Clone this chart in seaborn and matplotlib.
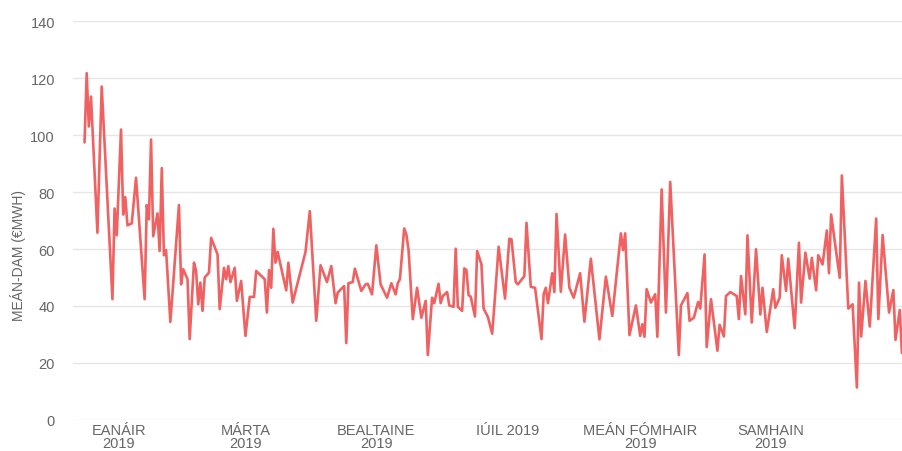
import pandas as pd
import numpy as np
import matplotlib
matplotlib.use("Agg")
import matplotlib.pyplot as plt
import seaborn as sns

# ── DATA (day offsets from 1 Jan 2019) ──
start = pd.Timestamp("2019-01-01")
day_offset = [-16, -15, -14, -13, -10, -8, -3, -2, -1, 1,
              2, 3, 4, 6, 8, 12, 13, 14, 15, 16,
              18, 19, 20, 21, 22, 24, 28, 29, 30, 32,
              33, 35, 36, 37, 38, 39, 40, 42, 43, 46,
              47, 49, 50, 51, 52, 54, 55, 57, 59, 61,
              63, 64, 68, 69, 70, 71, 72, 73, 74, 78,
              79, 81, 87, 89, 92, 94, 97, 99, 101, 102,
              105, 106, 107, 109, 110, 113, 115, 116, 118, 120,
              122, 125, 127, 129, 130, 131, 133, 134, 135, 137,
              139, 141, 143, 144, 146, 147, 149, 150, 151, 153,
              154, 156, 157, 158, 160, 161, 162, 163, 164, 166,
              167, 169, 170, 172, 174, 175, 177, 180, 182, 183,
              185, 186, 189, 190, 192, 194, 197, 198, 199, 200,
              202, 203, 204, 206, 208, 210, 212, 215, 217, 220,
              224, 227, 230, 234, 235, 236, 238, 241, 243, 244,
              245, 246, 248, 250, 251, 253, 255, 257, 261, 262,
              265, 266, 268, 269, 270, 271, 273, 274, 276, 279,
              280, 282, 283, 285, 288, 289, 290, 292, 293, 295,
              297, 299, 300, 302, 305, 306, 308, 309, 311, 312,
              315, 317, 318, 320, 322, 323, 325, 326, 328, 330,
              331, 332, 336, 337, 340, 342, 344, 345, 346, 348,
              350, 353, 354, 356, 359, 361, 362, 364, 365]
price = [97.4, 121.7, 103, 113.5, 65.7, 117, 42.4, 74.2, 64.8, 101.9,
         72.1, 78.2, 68.3, 69, 85, 42.4, 75.4, 70.4, 98.4, 64.5,
         72.5, 59.3, 88.4, 57.8, 59.6, 34.4, 75.4, 47.6, 52.9, 49.4,
         28.4, 55.2, 52.3, 40.6, 48.2, 38.3, 50, 51.7, 63.9, 58.1,
         38.9, 53.4, 49.4, 54, 48.4, 53.4, 41.8, 48.8, 29.5, 43.2,
         43.2, 52.3, 49.4, 37.7, 52.6, 46.4, 67.1, 55.2, 59, 45.5,
         55.2, 41.2, 59, 73.3, 34.8, 54.3, 48.4, 54, 41, 44.7,
         47, 27, 48, 48.4, 53.1, 45.3, 47.6, 47.8, 44.1, 61.3,
         47.6, 42.9, 48, 44.1, 48, 49.4, 67.2, 65.1, 59.9, 35.4,
         46.4, 35.9, 41.8, 22.8, 42.9, 41, 47.8, 41, 43.5, 44.9,
         40.2, 39.7, 60.1, 39.7, 38.3, 53.2, 52.6, 43.8, 43.3, 36.3,
         59.3, 54.6, 39.1, 36.2, 30.3, 40, 60.8, 42.6, 63.6, 63.4,
         48.4, 47.6, 50.5, 69.2, 46.7, 46.4, 28.4, 44.1, 46.4, 41,
         51.5, 44.9, 72.3, 45, 65.1, 46.4, 42.9, 51.5, 34.5, 56.6,
         28.3, 50.3, 36.5, 65.5, 59.6, 65.5, 29.8, 40.2, 29.5, 33.6,
         29.2, 45.9, 41.2, 44.1, 29.2, 80.9, 37.7, 83.5, 22.8, 40.2,
         44.5, 34.8, 35.9, 38.6, 41.4, 39.1, 58.1, 25.6, 42.4, 24.3,
         33.4, 29.3, 43.5, 44.9, 43.5, 35.4, 50.5, 37.1, 64.8, 34.2,
         59.9, 37, 46.4, 30.9, 45.9, 39.4, 42.9, 57.8, 45.3, 56.6,
         32.2, 62.2, 41.2, 58.7, 49.6, 56.9, 45.5, 57.8, 54.6, 66.5,
         51.5, 72.1, 49.9, 85.8, 39.1, 40.6, 11.4, 48.2, 29.3, 48.8,
         32.8, 70.7, 35.4, 64.9, 37.7, 45.6, 28.1, 38.6, 23.5]

tick_dates = ["2019-01-01", "2019-03-01", "2019-05-01",
              "2019-07-01", "2019-09-01", "2019-11-01"]
tick_labels = ["EANÁIR\n2019", "MÁRTA\n2019", "BEALTAINE\n2019",
               "IÚIL 2019", "MEÁN FÓMHAIR\n2019", "SAMHAIN\n2019"]
y_ticks = [0, 20, 40, 60, 80, 100, 120, 140]

df = pd.DataFrame({
    "date": start + pd.to_timedelta(day_offset, unit="D"),
    "price": price,
})

# ── STYLE ──
sns.set_style("white")
plt.rcParams["font.family"] = ["Liberation Sans", "DejaVu Sans"]
grey = "#666666"

fig = plt.figure(figsize=(9.03, 4.52), dpi=100)
ax = fig.add_axes([0.0808, 0.0686, 0.9192, 0.8827])

sns.lineplot(data=df, x="date", y="price", ax=ax, color="#f06161",
             linewidth=1.9, estimator=None)

ax.set_ylim(0, 140)
ax.set_yticks(y_ticks)
ax.set_xlim(start - pd.Timedelta(days=21.4), start + pd.Timedelta(days=365.5))
ax.set_xticks(pd.to_datetime(tick_dates))
ax.set_xticklabels(tick_labels, linespacing=0.95,
                   family=["Liberation Sans Narrow", "Liberation Sans", "DejaVu Sans"])

ax.grid(axis="y", color="#e6e6e6", linewidth=1)
ax.grid(axis="x", visible=False)
for s in ax.spines.values():
    s.set_visible(False)
ax.tick_params(axis="y", length=0, pad=13, labelsize=10.5, labelcolor=grey)
ax.tick_params(axis="x", length=0, pad=2, labelsize=10.5, labelcolor=grey)

ax.set_xlabel("")
ax.set_ylabel("MEÁN-DAM (€MWH)", color=grey, fontsize=10)
ax.yaxis.set_label_coords(-0.056, 0.414)

fig.savefig("out.png", dpi=100)
